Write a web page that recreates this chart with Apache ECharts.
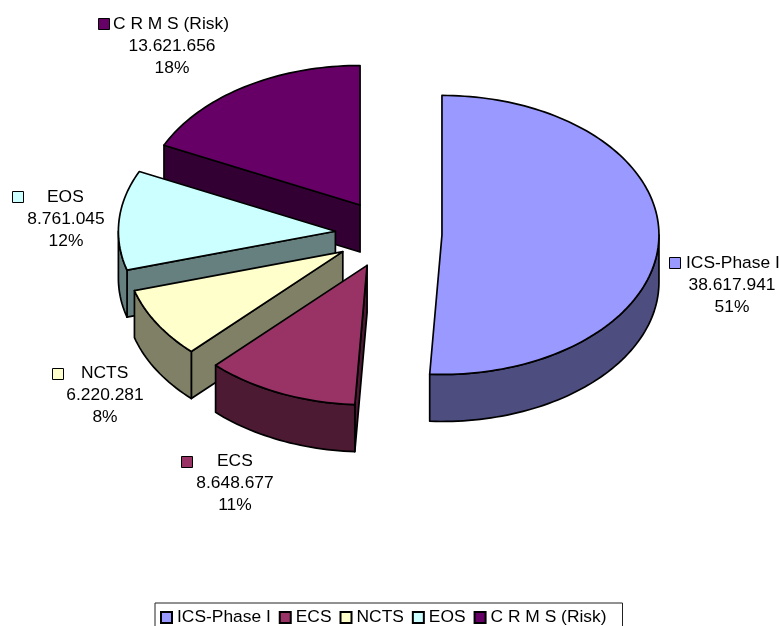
<!DOCTYPE html>
<html lang="en">
<head>
    <meta charset="UTF-8">
    <title>ICS pie</title>
    <script src="https://cdn.jsdelivr.net/npm/echarts@6/dist/echarts.min.js"></script>
    <style>
        html, body { margin: 0; padding: 0; background: #fff; }
        #chart { width: 780px; height: 626px; overflow: hidden; }
    </style>
</head>
<body>
    <div id="chart"></div>
    <script>
        // data, clockwise from 12 o'clock
        const categories = ['ICS-Phase I', 'ECS', 'NCTS', 'EOS', 'C R M S (Risk)'];
        const values = [38617941, 8648677, 6220281, 8761045, 13621656];

        // colours
        const topColors = ['#9999ff', '#993366', '#ffffcc', '#ccffff', '#660066'];
        const sideColors = ['#4d4d80', '#4d1a33', '#808066', '#668080', '#330033'];

        // label placement in pixels: key x, key y, name x, value centre x, first line y
        const labelSpots = [
            [669, 257, 686, 732, 263],
            [181, 456, 217, 235, 461],
            [52, 368, 81, 105, 373],
            [12, 191, 47, 66, 197],
            [98, 18, 113, 172, 24]
        ];

        const EXPLODE = 0.246;
        const DEPTH = 0.337; // in units of the vertical radius
        const FONT = '17.4px "Liberation Sans", Arial, sans-serif';

        const total = values.reduce((a, b) => a + b, 0);
        const starts = [];
        values.reduce((sum, v, i) => { starts[i] = sum; return sum + v; }, 0);

        function fmt(v) {
            return String(v).replace(/\B(?=(\d{3})+$)/g, '.');
        }

        function onRim(deg) {
            const r = deg * Math.PI / 180;
            return [Math.sin(r), Math.cos(r)];
        }

        function renderSlice(i, api) {
            const value = api.value(2);
            const a0 = starts[i] / total * 360;
            const a1 = a0 + value / total * 360;
            const dir = onRim((a0 + a1) / 2);
            const cx = dir[0] * EXPLODE;
            const cy = dir[1] * EXPLODE;

            const pt = (x, y, drop) => api.coord([cx + x, cy + y - (drop ? DEPTH : 0)]);
            const rimPts = (from, to, drop) => {
                const out = [];
                const n = Math.max(2, Math.ceil((to - from) / 1.5));
                for (let k = 0; k <= n; k++) {
                    const p = onRim(from + (to - from) * k / n);
                    out.push(pt(p[0], p[1], drop));
                }
                return out;
            };
            const face = (points, fill) => ({
                type: 'polygon',
                shape: { points: points },
                style: { fill: fill, stroke: '#000', lineWidth: 1.7, lineJoin: 'round' }
            });
            const wall = a => {
                const p = onRim(a);
                return face([pt(0, 0), pt(p[0], p[1]), pt(p[0], p[1], true), pt(0, 0, true)], sideColors[i]);
            };

            const kids = [];
            // radial walls, only when they face the viewer
            if (Math.sin(a0 * Math.PI / 180) < -1e-6) kids.push(wall(a0));
            if (Math.sin(a1 * Math.PI / 180) > 1e-6) kids.push(wall(a1));
            // outer wall, only the front half of the ellipse
            const from = Math.max(a0, 90);
            const to = Math.min(a1, 270);
            if (to > from) {
                kids.push(face(rimPts(from, to).concat(rimPts(from, to, true).reverse()), sideColors[i]));
            }
            // top
            kids.push(face([pt(0, 0)].concat(rimPts(a0, a1)), topColors[i]));

            // label
            const spot = labelSpots[i];
            kids.push({
                type: 'rect',
                shape: { x: spot[0] + 0.5, y: spot[1] + 0.5, width: 11, height: 11 },
                style: { fill: topColors[i], stroke: '#000', lineWidth: 1 }
            });
            kids.push({
                type: 'text',
                style: { x: spot[2], y: spot[4], text: categories[i], font: FONT, fill: '#000', textVerticalAlign: 'middle' }
            });
            kids.push({
                type: 'text',
                style: {
                    x: spot[3], y: spot[4] + 11,
                    text: fmt(value) + '\n' + Math.round(value / total * 100) + '%',
                    font: FONT, fill: '#000', lineHeight: 22, textAlign: 'center', textVerticalAlign: 'top'
                }
            });
            return { type: 'group', children: kids };
        }

        // drawn back to front, C R M S first
        const drawOrder = [4, 3, 2, 1, 0];

        const chart = echarts.init(document.getElementById('chart'), null, { renderer: 'canvas' });
        chart.setOption({
            animation: false,
            backgroundColor: '#fff',
            grid: { left: 171.6, width: 434, top: 94.5, height: 279 },
            xAxis: { type: 'value', min: -1, max: 1, show: false },
            yAxis: { type: 'value', min: -1, max: 1, show: false },
            legend: {
                data: categories.map(name => ({ name: name, icon: 'rect' })),
                left: 155,
                top: 603,
                orient: 'horizontal',
                padding: [6, 16, 6, 5],
                itemWidth: 11,
                itemHeight: 11,
                itemGap: 8,
                borderColor: '#222',
                borderWidth: 1,
                selectedMode: false,
                textStyle: { fontFamily: '"Liberation Sans", Arial, sans-serif', fontSize: 17.4, color: '#000' }
            },
            series: drawOrder.map(i => ({
                type: 'custom',
                name: categories[i],
                coordinateSystem: 'cartesian2d',
                clip: false,
                silent: true,
                encode: { x: 0, y: 1 },
                itemStyle: { color: topColors[i], borderColor: '#000', borderWidth: 1 },
                data: [[0, 0, values[i]]],
                renderItem: (params, api) => renderSlice(i, api)
            }))
        });
    </script>
</body>
</html>
